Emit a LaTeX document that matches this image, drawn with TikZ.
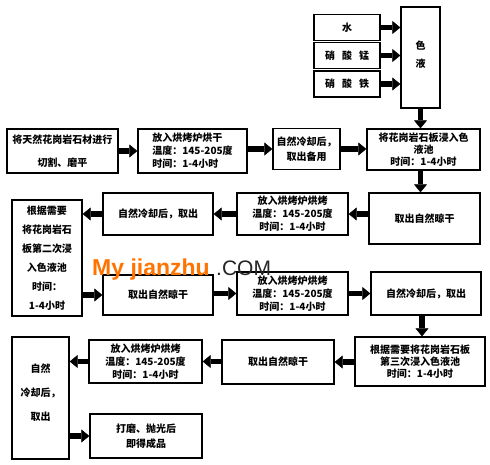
\documentclass[tikz,border=0pt]{standalone}
\usepackage{fontspec}
\setmainfont{Noto Sans CJK SC}
\setsansfont{Liberation Sans}
\usetikzlibrary{arrows.meta}

\tikzset{
    box/.style={draw, line width=1.3pt, inner sep=1pt, align=center,
                font=\bfseries\fontsize{10}{13}\selectfont},
    fat/.style={line width=5.5pt, -{Triangle[width=13pt,length=8pt,line width=0.5pt]}},
    sitemark/.style={text=orange!90!red, font=\sffamily\bfseries\fontsize{23}{23}\selectfont}
}
\newcommand{\bake}[1]{#1\\温度：145-205度\\时间：1-4小时}

\begin{document}
\begin{tikzpicture}[x=1pt,y=-1pt]
    \useasboundingbox (0,0) rectangle (490,465);

    % colour liquid
    \node[box, minimum width=39pt, minimum height=101pt, font=\bfseries\fontsize{10}{18}\selectfont] (sy) at (420.5,57.5) {色\\液\\[-12pt]};
    \foreach \n/\t/\y in {water/水/27.5, mn/{硝\hspace{7pt}酸\hspace{7pt}锰}/55.5, fe/{硝\hspace{7pt}酸\hspace{7pt}铁}/84}{
        \node[box, minimum width=66pt, minimum height=26pt] (\n) at (347,\y) {\t};
        \draw[fat] (\n.east) -- (\n.east -| sy.west);
    }

    % first row
    \node[box, minimum width=111pt, minimum height=44pt, font=\bfseries\fontsize{10}{23}\selectfont] (n1) at (62.5,151) {将天然花岗岩石材进行\\切割、磨平};
    \node[box, minimum width=109pt, minimum height=44pt, align=left] (n2) at (192.5,151) {\bake{放入烘烤炉烘干}};
    \node[box, minimum width=67pt, minimum height=41pt, font=\bfseries\fontsize{10}{15}\selectfont] (n3) at (306.5,149) {自然冷却后，\\取出备用};
    \node[box, minimum width=113pt, minimum height=41pt, font=\bfseries\fontsize{10}{12}\selectfont] (n4) at (423.5,149.5) {将花岗岩石板浸入色\\液池\\时间：1-4小时};

    \draw[fat] (sy.south) -- (sy.south |- n4.north);
    \draw[fat] (n1.east) -- (n1.east -| n2.west);
    \draw[fat] (n2.east |- n3.west) -- (n3.west);
    \draw[fat] (n3.east) -- (n3.east -| n4.west);

    % second row
    \node[box, minimum width=111pt, minimum height=51pt] (r2a) at (424.5,218.5) {取出自然晾干};
    \node[box, minimum width=111pt, minimum height=42pt] (r2b) at (292.5,214) {\bake{放入烘烤炉烘烤}};
    \node[box, minimum width=110pt, minimum height=42pt] (r2c) at (158,214) {自然冷却后，取出};
    \node[box, minimum width=70pt, minimum height=116pt, font=\bfseries\fontsize{10}{19}\selectfont] (r2d) at (47,258) {根据需要\\将花岗岩石\\板第二次浸\\入色液池\\时间：\\1-4小时};

    \draw[fat] (n4.south -| r2a.north) ++(-4,0) coordinate (d1) -- (d1 |- r2a.north);
    \draw[fat] (r2a.west |- r2b.east) -- (r2b.east);
    \draw[fat] (r2b.west) -- (r2b.west -| r2c.east);
    \draw[fat] (r2c.west) -- (r2c.west -| r2d.east);

    % third row
    \node[box, minimum width=110pt, minimum height=40pt] (r3a) at (158,295) {取出自然晾干};
    \node[box, minimum width=111pt, minimum height=43pt] (r3b) at (292.5,293.5) {\bake{放入烘烤炉烘烤}};
    \node[box, minimum width=110pt, minimum height=43pt] (r3c) at (426,293.5) {自然冷却后，取出};

    \draw[fat] (r2d.east |- r3a.west) -- (r3a.west);
    \draw[fat] (r3a.east |- r3b.west) -- (r3b.west);
    \draw[fat] (r3b.east) -- (r3b.east -| r3c.west);

    % fourth row
    \node[box, minimum width=130pt, minimum height=49pt, font=\bfseries\fontsize{10}{12}\selectfont] (r4a) at (420,361.5) {根据需要将花岗岩石板\\第三次浸入色液池\\时间：1-4小时};
    \node[box, minimum width=112pt, minimum height=44pt] (r4b) at (278,362) {取出自然晾干};
    \node[box, minimum width=113pt, minimum height=43pt] (r4c) at (145.5,361.5) {\bake{放入烘烤炉烘烤}};
    \node[box, minimum width=57pt, minimum height=122pt, font=\bfseries\fontsize{10}{24}\selectfont] (r4d) at (40.5,398) {自然\\冷却后，\\取出\\[-12pt]};
    \node[box, minimum width=112pt, minimum height=44pt, font=\bfseries\fontsize{10}{15}\selectfont] (r4e) at (146,436) {打磨、抛光后\\即得成品};

    \draw[fat] (r3c.south) ++(-4,0) coordinate (d2) -- (d2 |- r4a.north);
    \draw[fat] (r4a.west |- r4b.east) -- (r4b.east);
    \draw[fat] (r4b.west |- r4c.east) -- (r4c.east);
    \draw[fat] (r4c.west) -- (r4c.west -| r4d.east);
    \draw[fat] (r4d.east |- r4e.west) -- (r4e.west);

    % site mark
    \node[sitemark, anchor=base west, inner sep=0pt] (mk) at (92,275) {My jianzhu};
    \node[anchor=base west, inner sep=0pt, text=black!85, font=\sffamily\fontsize{21}{21}\selectfont] (com) at (216,275) {.COM};
\end{tikzpicture}
\end{document}
